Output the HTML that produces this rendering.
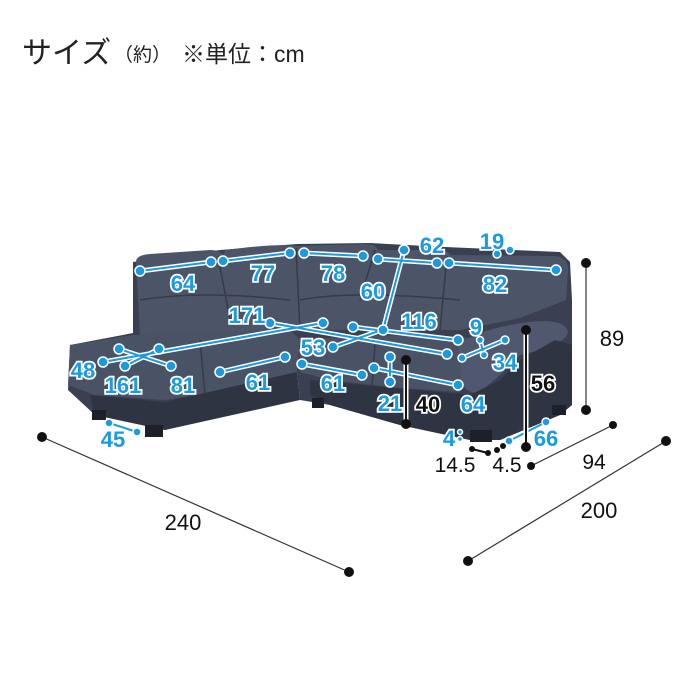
<!DOCTYPE html>
<html><head><meta charset="utf-8"><style>
html,body{margin:0;padding:0;background:#fff;width:700px;height:700px;overflow:hidden}
svg{display:block}
.b{font-family:"Liberation Sans",sans-serif;font-size:22px;fill:#1a9ae0;stroke:#fff;stroke-width:3.5px;paint-order:stroke;text-anchor:middle;font-weight:bold}
.k{font-family:"Liberation Sans",sans-serif;font-size:22px;fill:#111;stroke:#fff;stroke-width:3.5px;paint-order:stroke;text-anchor:middle;font-weight:bold}
.t{font-family:"Liberation Sans",sans-serif;font-size:21px;fill:#111;text-anchor:middle}
</style></head><body>
<svg width="700" height="700" viewBox="0 0 700 700" xmlns="http://www.w3.org/2000/svg">
<text x="22" y="63" style="font-family:'Liberation Sans','Noto Sans CJK JP',sans-serif;font-size:30px;fill:#222">サイズ</text>
<text x="114" y="61" style="font-family:'Liberation Sans','Noto Sans CJK JP',sans-serif;font-size:19px;fill:#222">（約）</text>
<text x="182" y="62" style="font-family:'Liberation Sans','Noto Sans CJK JP',sans-serif;font-size:23px;fill:#222">※単位：cm</text>

<g stroke="#333" stroke-width="1.2">
<line x1="42" y1="437" x2="349" y2="572"/>
<line x1="468" y1="561" x2="666" y2="441"/>
<line x1="531" y1="466" x2="613" y2="425"/>
<line x1="586" y1="263" x2="586" y2="410"/>
</g>
<g fill="#111">
<circle cx="42" cy="437" r="5"/><circle cx="349" cy="572" r="5"/>
<circle cx="468" cy="561" r="5"/><circle cx="666" cy="441" r="5"/>
<circle cx="531" cy="466" r="4"/><circle cx="613" cy="425" r="4"/>
<circle cx="586" cy="263" r="5"/><circle cx="586" cy="410" r="5"/>
</g>
<text class="t" x="183" y="530" style="font-size:22px">240</text>
<text class="t" x="599" y="518" style="font-size:22px">200</text>
<text class="t" x="594" y="469">94</text>
<text class="t" x="612" y="346" style="font-size:22px">89</text>
<text class="t" x="455" y="472">14.5</text>
<text class="t" x="507" y="472">4.5</text>

<!-- sofa -->
<g>
<polygon fill="#3a4052" points="133,262 220,250 297,244 370,243 445,247 560,252 570,262 572,300 572,405 560,415 500,440 470,440 400,425 330,405 300,400 297,372 165,430 95,415 68,390 70,345 133,333"/>
<path fill="#4c5468" d="M136 262Q136 255 150 254L210 250Q222 250 223 256L225 250Q280 243 296 246L300 246L365 244Q376 244 378 250L440 250Q448 250 450 255L555 256Q570 258 568 272L566 300L520 318L460 330L300 330L200 340L140 335Z"/>
<g stroke="#363b4b" stroke-width="1.5" fill="none">
<path d="M218 256L230 320M296 248L300 330M375 250L360 300M447 256L440 330M140 300Q200 290 290 300M300 300Q350 290 460 300"/>
</g>
<polygon fill="#4a5266" points="70,345 133,335 290,330 300,340 297,372 230,390 165,400 95,395 68,385"/>
<polygon fill="#4a5266" points="300,340 380,335 470,338 470,380 460,392 400,388 330,380 300,372"/>
<path fill="#505870" d="M458 345Q480 328 530 322Q565 318 568 332Q566 345 520 355L500 375L480 392Q465 395 462 380Z"/>
<g stroke="#363b4b" stroke-width="1.5" fill="none"><path d="M200 340L205 395M375 345L372 385"/></g>
<polygon fill="#2f3442" points="90,395 165,402 297,372 300,400 165,430 95,415"/>
<polygon fill="#2f3442" points="310,380 470,395 500,380 520,360 555,340 572,345 572,405 560,415 500,440 470,440 400,425 330,405 310,395"/>
<rect x="92" y="410" width="14" height="10" fill="#1d2029"/>
<rect x="145" y="425" width="18" height="12" fill="#1d2029"/>
<rect x="312" y="398" width="12" height="10" fill="#1d2029"/>
<rect x="470" y="430" width="22" height="12" fill="#1d2029"/>
<rect x="552" y="405" width="14" height="10" fill="#1d2029"/>
</g>

<g stroke="#fff" stroke-width="5" fill="none" stroke-linecap="round">
<path d="M140 271L211 262M223 261L290 253M304 253L363 256M378 259L437 263M404 250L383 330M449 263L556 270M270 323L447 354M353 327L458 340M103 362L323 323M333 347L382 330M119 349L171 366M159 349L125 366M220 372L285 357M302 364L362 375M390 357L390 382M374 368L458 385M462 358L505 340M480 340L484 355"/>
</g>
<g stroke="#1a9ae0" stroke-width="2" fill="none">
<path d="M140 271L211 262M223 261L290 253M304 253L363 256M378 259L437 263M404 250L383 330M449 263L556 270M270 323L447 354M353 327L458 340M103 362L323 323M333 347L382 330M119 349L171 366M159 349L125 366M220 372L285 357M302 364L362 375M390 357L390 382M374 368L458 385M462 358L505 340M480 340L484 355M109 423L137 432M509 441L546 422"/>
</g>
<g fill="#1a9ae0" stroke="#fff" stroke-width="1.5">
<circle cx="140" cy="271" r="5"/><circle cx="211" cy="262" r="5"/>
<circle cx="223" cy="261" r="5"/><circle cx="290" cy="253" r="5"/>
<circle cx="304" cy="253" r="5"/><circle cx="363" cy="256" r="5"/>
<circle cx="378" cy="259" r="5"/><circle cx="437" cy="263" r="5"/>
<circle cx="404" cy="250" r="5"/><circle cx="383" cy="330" r="5"/>
<circle cx="449" cy="263" r="5"/><circle cx="556" cy="270" r="5"/>
<circle cx="497" cy="254" r="4"/><circle cx="510" cy="250" r="4"/>
<circle cx="270" cy="323" r="5"/><circle cx="447" cy="354" r="5"/>
<circle cx="353" cy="327" r="5"/><circle cx="458" cy="340" r="5"/>
<circle cx="323" cy="323" r="5"/><circle cx="333" cy="347" r="5"/>
<circle cx="103" cy="362" r="5"/><circle cx="119" cy="349" r="5"/><circle cx="159" cy="349" r="5"/>
<circle cx="125" cy="366" r="5"/><circle cx="171" cy="366" r="5"/>
<circle cx="220" cy="372" r="5"/><circle cx="285" cy="357" r="5"/>
<circle cx="302" cy="364" r="5"/><circle cx="362" cy="375" r="5"/>
<circle cx="390" cy="357" r="5"/><circle cx="390" cy="382" r="5"/>
<circle cx="374" cy="368" r="5"/><circle cx="458" cy="385" r="5"/>
<circle cx="462" cy="358" r="4"/><circle cx="505" cy="340" r="4"/>
<circle cx="480" cy="340" r="3.5"/><circle cx="484" cy="355" r="3.5"/>
<circle cx="109" cy="423" r="4"/><circle cx="137" cy="432" r="4"/>
<circle cx="509" cy="441" r="4"/><circle cx="546" cy="422" r="4"/>
<circle cx="460" cy="432" r="2.5"/><circle cx="460" cy="439" r="2.5"/>
</g>
<g stroke="#fff" stroke-width="5"><path d="M406 360V424M526 330V447"/></g>
<g stroke="#111" stroke-width="2"><path d="M406 360V424M526 330V447M472 449L488 453"/></g>
<g fill="#111">
<circle cx="406" cy="360" r="5"/><circle cx="406" cy="424" r="5"/>
<circle cx="526" cy="330" r="5"/><circle cx="526" cy="447" r="5"/>
<circle cx="472" cy="449" r="3"/><circle cx="488" cy="453" r="3"/><circle cx="497" cy="450" r="3"/><circle cx="503" cy="446" r="3"/>
</g>

<text class="b" x="183" y="291">64</text>
<text class="b" x="263" y="281">77</text>
<text class="b" x="333" y="281">78</text>
<text class="b" x="432" y="253">62</text>
<text class="b" x="492" y="249">19</text>
<text class="b" x="495" y="292">82</text>
<text class="b" x="373" y="299">60</text>
<text class="b" x="247" y="323">171</text>
<text class="b" x="419" y="329">116</text>
<text class="b" x="476" y="335">9</text>
<text class="b" x="313" y="355">53</text>
<text class="b" x="505" y="370">34</text>
<text class="b" x="83" y="378">48</text>
<text class="b" x="123" y="393">161</text>
<text class="b" x="183" y="393">81</text>
<text class="b" x="258" y="390">61</text>
<text class="b" x="333" y="391">61</text>
<text class="b" x="390" y="411">21</text>
<text class="k" x="428" y="412">40</text>
<text class="b" x="473" y="412">64</text>
<text class="k" x="543" y="391">56</text>
<text class="b" x="113" y="447">45</text>
<text class="b" x="546" y="446">66</text>
<text class="b" x="449" y="446">4</text>
</svg>
</body></html>
